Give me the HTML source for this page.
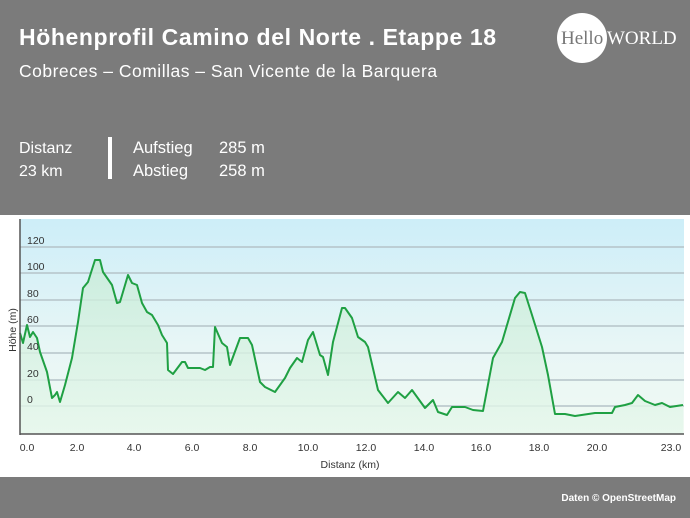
<!DOCTYPE html>
<html><head><meta charset="utf-8"><style>
body{margin:0;width:690px;height:518px;overflow:hidden;background:#7b7b7b;font-family:"Liberation Sans",sans-serif;position:relative}
.t{position:absolute;color:#fff;white-space:nowrap}
</style></head><body>
<div class="t" style="left:19px;top:24px;font-size:23px;font-weight:bold;letter-spacing:0.6px">Höhenprofil Camino del Norte . Etappe 18</div>
<div class="t" style="left:19px;top:61px;font-size:17.5px;letter-spacing:0.5px">Cobreces – Comillas – San Vicente de la Barquera</div>
<div class="t" style="left:19px;top:137px;font-size:16px;line-height:23px">Distanz<br>23 km</div>
<div style="position:absolute;left:108px;top:137px;width:4px;height:42px;background:#fff"></div>
<div class="t" style="left:133px;top:137px;font-size:16.5px;line-height:23px">Aufstieg<br>Abstieg</div>
<div class="t" style="left:219px;top:137px;font-size:16.5px;line-height:23px">285 m<br>258 m</div>
<div style="position:absolute;left:557px;top:13px;width:50px;height:50px;border-radius:50%;background:#fff"></div>
<div class="t" style="left:561px;top:28px;font-size:19px;font-family:'Liberation Serif',serif;color:#777">Hello</div>
<div class="t" style="left:607px;top:28px;font-size:19px;font-family:'Liberation Serif',serif">WORLD</div>
<svg style="position:absolute;left:0;top:215px" width="690" height="262">
<defs>
<linearGradient id="bg" x1="0" y1="0" x2="0" y2="1"><stop offset="0" stop-color="#cdeef8"/><stop offset="0.6" stop-color="#e8f6f6"/><stop offset="1" stop-color="#f0faf2"/></linearGradient>
<linearGradient id="fg" x1="0" y1="0" x2="0" y2="1"><stop offset="0" stop-color="#c8ecd8"/><stop offset="1" stop-color="#e6f7ec"/></linearGradient>
</defs>
<rect x="0" y="0" width="690" height="262" fill="#fff"/>
<rect x="20" y="4" width="664" height="215" fill="url(#bg)"/>
<g transform="translate(0,-215)">
<g stroke="#b5c3c8" stroke-width="1.5">
<line x1="20" x2="684" y1="247" y2="247"/><line x1="20" x2="684" y1="273" y2="273"/><line x1="20" x2="684" y1="300" y2="300"/><line x1="20" x2="684" y1="326" y2="326"/><line x1="20" x2="684" y1="353" y2="353"/><line x1="20" x2="684" y1="380" y2="380"/><line x1="20" x2="684" y1="406" y2="406"/>
</g>
<polygon fill="url(#fg)" opacity="0.8" points="20,434 20,333 23,343 27,325 30,337 33,332 37,338 40,352 47,372 52,398 55,395 57,392 60,402 65,385 72,358 78,322 83,288 88,282 95,260 100,260 103,272 112,285 117,303 120,302 128,275 132,283 137,285 142,303 147,312 152,315 158,325 162,335 167,343 168,370 173,374 182,362 185,362 188,368 200,368 205,370 210,367 213,367 215,327 222,343 227,347 230,365 240,338 248,338 252,345 260,382 265,387 275,392 285,378 290,368 297,358 302,362 308,340 313,332 320,355 323,357 328,375 333,342 342,308 345,308 352,318 358,337 365,342 368,347 378,390 388,403 398,392 405,398 412,390 425,408 433,400 438,412 447,415 452,407 465,407 473,410 483,411 493,358 502,342 515,298 520,292 525,293 532,315 542,347 548,375 555,414 565,414 575,416 595,413 612,413 615,407 625,405 632,403 638,395 645,401 655,405 662,403 670,407 683,405 683,434"/>
<polyline fill="none" stroke="#1fa043" stroke-width="2" stroke-linejoin="round" points="20,333 23,343 27,325 30,337 33,332 37,338 40,352 47,372 52,398 55,395 57,392 60,402 65,385 72,358 78,322 83,288 88,282 95,260 100,260 103,272 112,285 117,303 120,302 128,275 132,283 137,285 142,303 147,312 152,315 158,325 162,335 167,343 168,370 173,374 182,362 185,362 188,368 200,368 205,370 210,367 213,367 215,327 222,343 227,347 230,365 240,338 248,338 252,345 260,382 265,387 275,392 285,378 290,368 297,358 302,362 308,340 313,332 320,355 323,357 328,375 333,342 342,308 345,308 352,318 358,337 365,342 368,347 378,390 388,403 398,392 405,398 412,390 425,408 433,400 438,412 447,415 452,407 465,407 473,410 483,411 493,358 502,342 515,298 520,292 525,293 532,315 542,347 548,375 555,414 565,414 575,416 595,413 612,413 615,407 625,405 632,403 638,395 645,401 655,405 662,403 670,407 683,405"/>
<line x1="20" y1="219" x2="20" y2="435" stroke="#555" stroke-width="1.5"/>
<line x1="20" y1="434" x2="684" y1="434" y2="434" stroke="#555" stroke-width="1.5"/>
<g font-size="10.5" fill="#333" font-family="Liberation Sans,sans-serif">
<text x="27" y="244">120</text><text x="27" y="270">100</text><text x="27" y="297">80</text><text x="27" y="323">60</text><text x="27" y="350">40</text><text x="27" y="377">20</text><text x="27" y="403">0</text>
<text transform="translate(16,330) rotate(-90)" text-anchor="middle">Höhe (m)</text>
<g text-anchor="middle"><text x="27" y="451">0.0</text><text x="77" y="451">2.0</text><text x="134" y="451">4.0</text><text x="192" y="451">6.0</text><text x="250" y="451">8.0</text><text x="308" y="451">10.0</text><text x="366" y="451">12.0</text><text x="424" y="451">14.0</text><text x="481" y="451">16.0</text><text x="539" y="451">18.0</text><text x="597" y="451">20.0</text><text x="671" y="451">23.0</text>
<text x="350" y="468">Distanz  (km)</text></g>
</g>
</g>
</svg>
<div class="t" style="right:14px;top:493px;font-size:10px;font-weight:bold">Daten © OpenStreetMap</div>
</body></html>
